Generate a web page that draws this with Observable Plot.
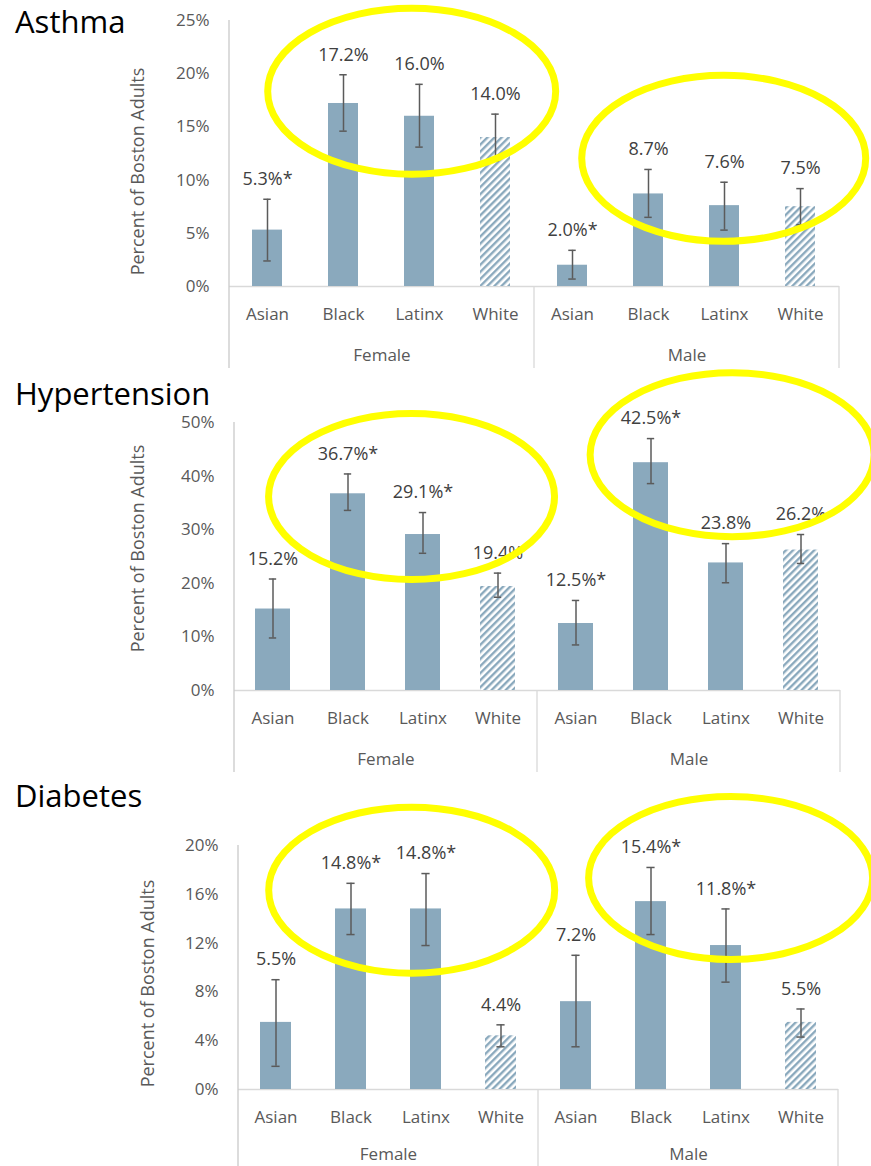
<!DOCTYPE html>
<html>
<head>
<meta charset="utf-8">
<script src="https://cdn.jsdelivr.net/npm/d3@7"></script>
<script src="https://cdn.jsdelivr.net/npm/@observablehq/plot@0.6"></script>
<style>
  html, body { margin: 0; padding: 0; background: #fff; }
  #page { position: relative; width: 871px; height: 1166px; overflow: hidden; font-family: "Open Sans", sans-serif; }
  .panel { position: absolute; left: 0; }
  .panel svg { overflow: visible; display: block; background: transparent; }
  .title { position: absolute; left: 15px; font-size: 31px; line-height: 25px; height: 25px; color: #000; white-space: nowrap; }
</style>
</head>
<body>
<div id="page"></div>
<script>
// Categories
const races = ["Asian", "Black", "Latinx", "White"];
const sexes = ["Female", "Male"];

// Percent of Boston adults, 95% CI bounds and significance flag.
// Order: Female Asian, Black, Latinx, White, then Male Asian, Black, Latinx, White.
const asthmaValue = [5.3, 17.2, 16.0, 14.0, 2.0, 8.7, 7.6, 7.5];
const asthmaLow   = [2.4, 14.6, 13.1, 11.8, 0.7, 6.5, 5.3, 5.8];
const asthmaHigh  = [8.2, 19.9, 19.0, 16.2, 3.4, 11.0, 9.8, 9.2];
const asthmaSig   = [true, false, false, false, true, false, false, false];
const asthmaTicks = [0, 5, 10, 15, 20, 25];

const hypertensionValue = [15.2, 36.7, 29.1, 19.4, 12.5, 42.5, 23.8, 26.2];
const hypertensionLow   = [9.8, 33.6, 25.6, 17.4, 8.5, 38.6, 20.1, 23.7];
const hypertensionHigh  = [20.8, 40.4, 33.2, 21.9, 16.8, 47.0, 27.4, 29.1];
const hypertensionSig   = [false, true, true, false, true, true, false, false];
const hypertensionTicks = [0, 10, 20, 30, 40, 50];

const diabetesValue = [5.5, 14.8, 14.8, 4.4, 7.2, 15.4, 11.8, 5.5];
const diabetesLow   = [1.9, 12.7, 11.8, 3.5, 3.5, 12.7, 8.8, 4.3];
const diabetesHigh  = [9.0, 16.9, 17.7, 5.3, 11.0, 18.2, 14.8, 6.6];
const diabetesSig   = [false, true, true, false, false, true, true, false];
const diabetesTicks = [0, 4, 8, 12, 16, 20];

const yTitle = "Percent of Boston Adults";

function rows(value, low, high, sig) {
  return value.map((v, i) => ({
    sex: sexes[Math.floor(i / races.length)],
    race: races[i % races.length],
    value: v, low: low[i], high: high[i], sig: sig[i]
  }));
}

const barColor = "#8aa9bd";
const errColor = "#5b5b5b";
const lineColor = "#d9d9d9";

// Layout of each panel; callouts are the yellow highlight rings
// (centre given as a fraction across the sex group and a percent value).
const panels = [
  {
    title: "Asthma", titleTop: 8.5, top: 0,
    data: rows(asthmaValue, asthmaLow, asthmaHigh, asthmaSig), ticks: asthmaTicks,
    marginTop: 20, frameH: 266, marginLeft: 228, marginRight: 32, padInner: 0.6, groupPad: 62,
    yTitleDx: -91, yTitleDy: 18,
    callouts: [
      {sex: "Female", at: 0.599, value: 18.3, rx: 144, ry: 83},
      {sex: "Male", at: 0.622, value: 12.0, rx: 142, ry: 83}
    ]
  },
  {
    title: "Hypertension", titleTop: 380.5, top: 380,
    data: rows(hypertensionValue, hypertensionLow, hypertensionHigh, hypertensionSig), ticks: hypertensionTicks,
    marginTop: 42, frameH: 268, marginLeft: 233, marginRight: 31, padInner: 0.53, groupPad: 62,
    yTitleDx: -96, yTitleDy: -8,
    callouts: [
      {sex: "Female", at: 0.586, value: 36.1, rx: 143, ry: 83},
      {sex: "Male", at: 0.644, value: 43.9, rx: 142, ry: 82}
    ]
  },
  {
    title: "Diabetes", titleTop: 782.5, top: 780,
    data: rows(diabetesValue, diabetesLow, diabetesHigh, diabetesSig), ticks: diabetesTicks,
    marginTop: 65, frameH: 244, marginLeft: 237, marginRight: 33, padInner: 0.59, groupPad: 58,
    yTitleDx: -90, yTitleDy: 16,
    callouts: [
      {sex: "Female", at: 0.579, value: 16.3, rx: 143, ry: 83},
      {sex: "Male", at: 0.642, value: 17.3, rx: 142, ry: 81.5}
    ]
  }
];

const page = document.getElementById("page");

panels.forEach((p, idx) => {
  const width = 871;
  const marginBottom = 90;
  const height = p.marginTop + p.frameH + marginBottom;
  const groupW = (width - p.marginLeft - p.marginRight) / sexes.length;
  const step = groupW / races.length;
  const bandW = step * (1 - p.padInner);
  const capInset = (bandW - 8) / 2;
  const hatchId = `hatch-${idx}`;
  const yMax = p.ticks[p.ticks.length - 1];
  const label = d => d.value.toFixed(1) + "%" + (d.sig ? "*" : "");

  const chart = Plot.plot({
    width, height,
    marginTop: p.marginTop, marginBottom, marginLeft: p.marginLeft, marginRight: p.marginRight,
    style: {fontFamily: "'Open Sans', sans-serif", fontSize: "17px", color: "#595959", background: "transparent", overflow: "visible"},
    fx: {domain: sexes, padding: 0},
    x: {domain: races, paddingInner: p.padInner, paddingOuter: p.padInner / 2},
    y: {domain: [0, yMax]},
    marks: [
      Plot.ruleY([0], {stroke: lineColor, strokeWidth: 1.3}),
      Plot.barY(p.data, {filter: d => d.race !== "White", fx: "sex", x: "race", y: "value", fill: barColor}),
      Plot.barY(p.data, {filter: d => d.race === "White", fx: "sex", x: "race", y: "value", fill: `url(#${hatchId})`}),
      Plot.ruleX(p.data, {fx: "sex", x: "race", y1: "low", y2: "high", stroke: errColor, strokeWidth: 1.5}),
      Plot.tickY(p.data, {fx: "sex", x: "race", y: "low", insetLeft: capInset, insetRight: capInset, stroke: errColor, strokeWidth: 1.5}),
      Plot.tickY(p.data, {fx: "sex", x: "race", y: "high", insetLeft: capInset, insetRight: capInset, stroke: errColor, strokeWidth: 1.5}),
      Plot.text(p.data, {fx: "sex", x: "race", y: "high", text: label, dy: -20, lineAnchor: "middle", fill: "#404040", fontSize: 18}),
      Plot.axisY({ticks: p.ticks, tickFormat: d => d + "%", tickSize: 0, tickPadding: 20, label: null}),
      Plot.axisX({tickSize: 0, tickPadding: 21, label: null}),
      Plot.axisFx({anchor: "bottom", tickSize: 0, tickPadding: p.groupPad, label: null}),
      Plot.text([yTitle], {fx: () => sexes[0], text: d => d, frameAnchor: "left", rotate: -90,
        dx: p.yTitleDx, dy: p.yTitleDy, textAnchor: "middle", lineAnchor: "middle", fill: "#595959", fontSize: 18})
    ]
  });

  const svg = d3.select(chart);
  svg.style("overflow", "visible");

  // Diagonal hatch used for the White bars
  const pat = svg.insert("defs", ":first-child").append("pattern")
    .attr("id", hatchId)
    .attr("patternUnits", "userSpaceOnUse")
    .attr("width", 5).attr("height", 5)
    .attr("patternTransform", "rotate(45)");
  pat.append("rect").attr("width", 5).attr("height", 5).attr("fill", "#fff");
  pat.append("rect").attr("width", 2.4).attr("height", 5).attr("fill", barColor);

  // Category-axis frame lines (value axis line and group separators)
  const fx = chart.scale("fx");
  const y = chart.scale("y");
  const y0 = y.apply(0);
  const yTop = y.apply(yMax);
  const yBottom = y0 + 82;
  const lines = svg.append("g").attr("stroke", lineColor).attr("stroke-width", 1.3);
  const left = fx.apply(sexes[0]);
  lines.append("line").attr("x1", left).attr("x2", left).attr("y1", yTop).attr("y2", yBottom).attr("stroke", "#c9c9c9");
  for (const s of sexes) {
    const xr = fx.apply(s) + fx.bandwidth;
    lines.append("line").attr("x1", xr).attr("x2", xr).attr("y1", y0).attr("y2", yBottom);
  }

  // Highlight rings
  for (const c of p.callouts) {
    svg.append("ellipse")
      .attr("cx", fx.apply(c.sex) + c.at * fx.bandwidth)
      .attr("cy", y.apply(c.value))
      .attr("rx", c.rx).attr("ry", c.ry)
      .attr("fill", "none").attr("stroke", "#ffff00").attr("stroke-width", 7);
  }

  const holder = document.createElement("div");
  holder.className = "panel";
  holder.style.top = p.top + "px";
  holder.appendChild(chart);
  page.appendChild(holder);

  const title = document.createElement("div");
  title.className = "title";
  title.style.top = p.titleTop + "px";
  title.textContent = p.title;
  page.appendChild(title);
});
</script>
</body>
</html>
